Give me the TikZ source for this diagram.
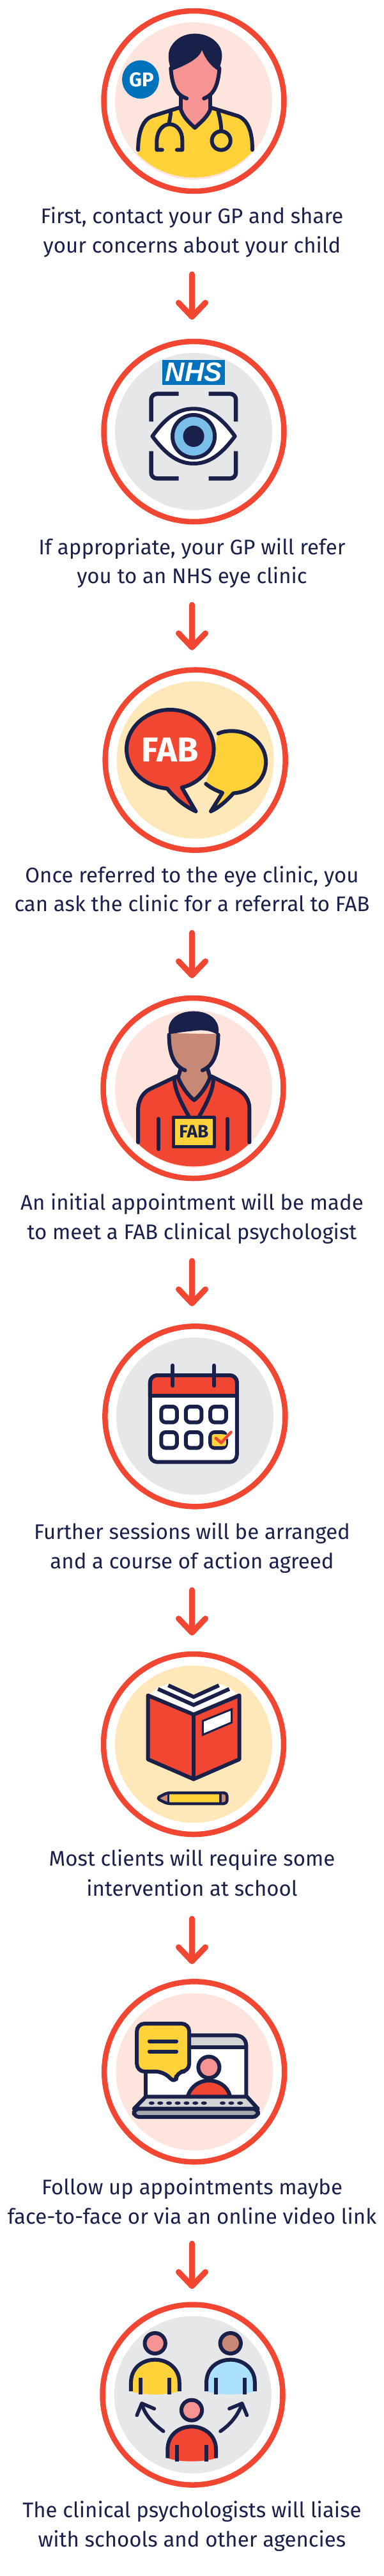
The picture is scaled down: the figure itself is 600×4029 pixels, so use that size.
\documentclass[tikz,border=0pt]{standalone}
\usepackage{fontspec}
\setmainfont{Fira Sans}
\newfontfamily\nhsfont{Liberation Sans}
\usetikzlibrary{arrows.meta}
\definecolor{ringred}{HTML}{F14732}
\definecolor{inkblue}{HTML}{192049}
\definecolor{sunyellow}{HTML}{FFD23A}
\definecolor{tintpink}{HTML}{FDE4DD}
\definecolor{tintgrey}{HTML}{E6E7E8}
\definecolor{tintcream}{HTML}{FEE8B9}
\definecolor{nhsblue}{HTML}{0072BC}
\definecolor{skinpink}{HTML}{F69393}
\definecolor{skinbrown}{HTML}{C78875}
\definecolor{irisblue}{HTML}{7ABFEA}
\definecolor{skyblue}{HTML}{ABE1FA}
\definecolor{keygrey}{HTML}{D1D3D4}
\definecolor{basegrey}{HTML}{A7A9AC}
\tikzset{
  ring/.style={circle,draw=ringred,line width=8.5pt,minimum size=282pt,inner sep=0pt,outer sep=0pt},
  disc/.style={circle,fill=#1,minimum size=246pt,inner sep=0pt,outer sep=0pt},
  caption/.style={anchor=base,inner sep=0pt,text=inkblue,font=\fontsize{33}{46}\selectfont},
  flow/.style={draw=ringred,line width=9pt,line cap=round,-{Straight Barb[length=22pt,width=42pt,round]}},
  ink/.style={draw=inkblue,line width=#1,line cap=round,line join=round},
  ink/.default=6pt,
  crop/.style={shift={(0,#1)},x=0.3846pt,y=-0.3333pt}
}
\begin{document}
\begin{tikzpicture}[x=1pt,y=-1pt]
\useasboundingbox (0,0) rectangle (600,4029);

% first panel
\node[disc=tintpink] (disc1) at (303,158) {};
\node[ring] (ring1) at (303.5,158) {};
\begin{scope}[crop=0]
\begin{scope}
\clip (788,465) ellipse [x radius=320,y radius=368];
\fill[sunyellow] (562,705) .. controls (562,610) and (585,560) .. (620,545) -- (730,505) -- (858,505) -- (970,545) .. controls (1010,565) and (1027,620) .. (1027,705) -- (1040,860) -- (550,860) -- cycle;
\end{scope}
\draw[ink] (562,703) .. controls (562,610) and (585,560) .. (620,545) -- (730,505);
\draw[ink] (858,505) -- (970,545) .. controls (1010,565) and (1027,620) .. (1027,703);
\fill[skinpink] (700,330) .. controls (760,305) and (810,275) .. (822,235) .. controls (835,275) and (860,315) .. (888,330) .. controls (885,400) and (865,445) .. (850,455) -- (855,510) .. controls (845,550) and (815,575) .. (793,600) .. controls (770,575) and (745,550) .. (735,510) -- (735,455) .. controls (715,440) and (700,400) .. (700,330) -- cycle;
\fill[inkblue] (697,332) .. controls (685,290) and (680,250) .. (695,220) .. controls (715,180) and (750,158) .. (793,158) .. controls (840,158) and (880,185) .. (897,225) .. controls (910,260) and (900,295) .. (890,332) .. controls (860,315) and (835,275) .. (822,235) .. controls (810,275) and (760,305) .. (697,332) -- cycle;
\draw[ink] (695,320) .. controls (700,400) and (715,445) .. (760,462);
\draw[ink] (893,320) .. controls (888,400) and (870,445) .. (830,462);
\draw[ink,line cap=butt] (735,445) -- (735,510);
\draw[ink,line cap=butt] (855,445) -- (855,510);
\draw[ink] (735,510) .. controls (745,550) and (770,575) .. (793,600) .. controls (815,575) and (845,550) .. (857,510);
\draw[ink] (695,530) -- (688,580);
\draw[ink] (660,703) -- (638,703) -- (638,660) .. controls (640,610) and (665,583) .. (690,583) .. controls (720,583) and (742,615) .. (742,660) -- (742,703) -- (720,703);
\draw[ink] (888,525) .. controls (898,565) and (900,590) .. (900,615);
\draw[ink] (900,660) ellipse [x radius=38,y radius=44];
\fill[nhsblue] (572,373) ellipse [x radius=75,y radius=90];
\node[inner sep=0pt,text=white,font=\fontsize{31}{31}\bfseries\selectfont] (badge) at (576,375) {GP};
\end{scope}
\node[caption] (cap1a) at (300.5,349) {First, contact your GP and share};
\node[caption] (cap1b) at (300.5,395) {your concerns about your child};
\coordinate (A1) at (300.5,429);
\coordinate (B1) at (300.5,500);
\draw[flow] (A1) -- (B1);

% second panel
\node[disc=tintgrey] (disc2) at (303,675) {};
\node[ring] (ring2) at (303.5,675) {};
\begin{scope}[crop=500]
\fill[nhsblue] (661,188) rectangle (915,305);
\node[inner sep=0pt,text=white,font=\fontsize{42}{42}\nhsfont\bfseries\itshape\selectfont] (nhs) at (788,246) {NHS};
\draw[ink=6.5pt,line cap=butt,rounded corners=9pt] (615,478) -- (615,348) -- (727,348);
\draw[ink=6.5pt,line cap=butt,rounded corners=9pt] (849,348) -- (960,348) -- (960,478);
\draw[ink=6.5pt,line cap=butt,rounded corners=9pt] (615,617) -- (615,745) -- (727,745);
\draw[ink=6.5pt,line cap=butt,rounded corners=9pt] (849,745) -- (960,745) -- (960,617);
\draw[ink,fill=white] (620,547) .. controls (680,450) and (730,418) .. (788,418) .. controls (846,418) and (896,450) .. (956,547) .. controls (896,640) and (846,675) .. (788,675) .. controls (730,675) and (680,640) .. (620,547) -- cycle;
\draw[ink,fill=irisblue] (788,547) ellipse [x radius=86,y radius=100];
\fill[inkblue] (788,547) ellipse [x radius=43,y radius=50];
\end{scope}
\node[caption] (cap2a) at (300.5,867) {If appropriate, your GP will refer};
\node[caption] (cap2b) at (300.5,912) {you to an NHS eye clinic};
\coordinate (A2) at (300.5,946);
\coordinate (B2) at (300.5,1017);
\draw[flow] (A2) -- (B2);

% third panel
\node[disc=tintcream] (disc3) at (305.6,1188.7) {};
\node[ring] (ring3) at (305.7,1188.7) {};
\begin{scope}[crop=1020]
\draw[ink,fill=sunyellow] (888,382) .. controls (905,372) and (925,370) .. (945,370) .. controls (1020,370) and (1082,435) .. (1082,515) .. controls (1082,595) and (1030,655) .. (950,662) .. controls (920,700) and (890,730) .. (858,747) -- (905,660) .. controls (880,650) and (855,635) .. (838,618);
\draw[ink,fill=ringred] (740,635) .. controls (815,615) and (870,540) .. (870,455) .. controls (870,355) and (790,270) .. (692,270) .. controls (595,270) and (515,355) .. (515,455) .. controls (515,550) and (585,630) .. (680,640) .. controls (715,690) and (755,725) .. (797,747) -- cycle;
\node[inner sep=0pt,text=white,font=\fontsize{54}{54}\bfseries\selectfont] (fab1) at (692,458) {FAB};
\end{scope}
\node[caption] (cap3a) at (300.5,1380) {Once referred to the eye clinic, you};
\node[caption] (cap3b) at (300.5,1425) {can ask the clinic for a referral to FAB};
\coordinate (A3) at (300.5,1459);
\coordinate (B3) at (300.5,1530);
\draw[flow] (A3) -- (B3);

% fourth panel
\node[disc=tintpink] (disc4) at (303,1703) {};
\node[ring] (ring4) at (302.5,1702) {};
\begin{scope}[crop=1530]
\begin{scope}
\clip (788,517) ellipse [x radius=320,y radius=366];
\fill[ringred] (562,775) -- (562,610) .. controls (565,565) and (585,535) .. (610,520) -- (720,460) -- (860,460) -- (965,520) .. controls (995,540) and (1015,570) .. (1015,610) -- (1015,775) -- (1040,900) -- (540,900) -- cycle;
\end{scope}
\draw[ink] (562,770) -- (562,610) .. controls (565,565) and (585,535) .. (610,520) -- (720,460);
\draw[ink] (860,460) -- (965,520) .. controls (995,540) and (1015,570) .. (1015,610) -- (1015,770);
\fill[skinbrown] (695,258) -- (885,262) .. controls (885,360) and (860,410) .. (845,430) -- (855,470) .. controls (840,510) and (810,550) .. (790,575) .. controls (770,550) and (740,510) .. (725,470) -- (735,430) .. controls (715,410) and (695,360) .. (695,258) -- cycle;
\fill[inkblue] (688,265) .. controls (675,200) and (720,155) .. (788,155) .. controls (855,155) and (900,200) .. (888,268) .. controls (850,235) and (800,245) .. (780,248) .. controls (750,250) and (720,258) .. (688,262) -- cycle;
\draw[ink] (688,265) .. controls (688,350) and (705,410) .. (753,432);
\draw[ink] (888,265) .. controls (888,350) and (870,410) .. (824,432);
\draw[ink] (735,425) -- (725,465) .. controls (735,500) and (765,550) .. (790,572) .. controls (815,550) and (845,500) .. (855,465) -- (845,425);
\draw[ink] (710,470) .. controls (708,520) and (740,590) .. (767,645);
\draw[ink] (868,470) .. controls (870,520) and (840,590) .. (812,645);
\draw[ink=5pt,fill=sunyellow,line cap=butt] (705,653) rectangle (873,792);
\node[inner sep=0pt,text=inkblue,font=\fontsize{28}{28}\bfseries\selectfont] (fab2) at (789,718) {FAB};
\draw[ink] (646,660) -- (646,802);
\draw[ink] (926,660) -- (926,802);
\end{scope}
\node[caption] (cap4a) at (300.5,1892) {An initial appointment will be made};
\node[caption] (cap4b) at (300.5,1938) {to meet a FAB clinical psychologist};
\coordinate (A4) at (300.5,1972);
\coordinate (B4) at (300.5,2043);
\draw[flow] (A4) -- (B4);

% fifth panel
\node[disc=tintgrey] (disc5) at (305,2215) {};
\node[ring] (ring5) at (305.4,2215.3) {};
\begin{scope}[crop=2040]
\draw[ink,fill=white,rounded corners=11pt] (611,333) rectangle (964,740);
\fill[ringred,rounded corners=11pt] (611,428) -- (611,333) -- (964,333) -- (964,428) -- cycle;
\draw[ink,rounded corners=11pt] (611,428) -- (611,333) -- (964,333) -- (964,428);
\draw[ink,line cap=butt] (611,428) -- (964,428);
\draw[ink] (703,287) -- (703,382);
\draw[ink] (871,287) -- (871,382);
\draw[ink,rounded corners=7pt] (656,480) rectangle (720,554);
\draw[ink,rounded corners=7pt] (756,480) rectangle (820,554);
\draw[ink,rounded corners=7pt] (856,480) rectangle (920,554);
\draw[ink,rounded corners=7pt] (656,600) rectangle (720,674);
\draw[ink,rounded corners=7pt] (756,600) rectangle (820,674);
\draw[ink,rounded corners=7pt] (856,600) rectangle (920,674);
\fill[sunyellow,rounded corners=3pt] (862,610) rectangle (920,665);
\draw[white,line width=6pt,line cap=round] (920,625) -- (945,597);
\draw[ringred,line width=4.5pt,line cap=round,line join=round] (878,628) -- (900,650) -- (940,600);
\end{scope}
\node[caption] (cap5a) at (300.5,2407) {Further sessions will be arranged};
\node[caption] (cap5b) at (300.5,2453) {and a course of action agreed};
\coordinate (A5) at (300.5,2487);
\coordinate (B5) at (300.5,2558);
\draw[flow] (A5) -- (B5);

% sixth panel
\node[disc=tintcream] (disc6) at (303,2728) {};
\node[ring] (ring6) at (303,2728) {};
\begin{scope}[crop=2550]
\fill[white] (610,298) -- (643,270) -- (685,250) -- (788,302) -- (891,250) -- (933,270) -- (966,298) -- (788,385) -- cycle;
\draw[ink,line cap=butt,line join=miter] (685,258) -- (788,312) -- (891,258);
\draw[ink,line cap=butt,line join=miter] (643,275) -- (788,350) -- (933,275);
\draw[ink,fill=ringred] (602,305) -- (788,395) -- (974,305) -- (974,605) -- (788,698) -- (602,605) -- cycle;
\draw[ink] (788,395) -- (788,698);
\draw[ink=3pt,fill=white,line join=miter] (825,425) -- (943,370) -- (943,432) -- (825,490) -- cycle;
\fill[skinbrown] (637,788) -- (685,762) -- (685,813) -- cycle;
\fill[sunyellow] (685,762) rectangle (897,813);
\fill[skinbrown] (897,762) rectangle (922,813);
\draw[ink=4.5pt,rounded corners=5pt] (637,788) -- (680,762) -- (924,762) -- (924,813) -- (680,813) -- cycle;
\draw[ink=3.5pt,line cap=butt] (685,762) -- (685,813);
\draw[ink=3.5pt,line cap=butt] (897,762) -- (897,813);
\end{scope}
\node[caption] (cap6a) at (300.5,2918) {Most clients will require some};
\node[caption] (cap6b) at (300.5,2965) {intervention at school};
\coordinate (A6) at (300.5,3001);
\coordinate (B6) at (300.5,3072);
\draw[flow] (A6) -- (B6);

% seventh panel
\node[disc=tintpink] (disc7) at (304.4,3240.5) {};
\node[ring] (ring7) at (304.2,3240.3) {};
\begin{scope}[crop=3040]
\fill[keygrey,rounded corners=12pt] (700,430) -- (1003,430) -- (1003,487) -- (700,487) -- cycle;
\fill[white] (593,487) rectangle (1003,715);
\draw[ink,line cap=butt] (593,590) -- (593,715);
\draw[ink,line cap=butt] (770,430) -- (955,430) .. controls (985,430) and (1002,450) .. (1002,480) -- (1002,715);
\draw[ink,line cap=butt] (770,487) -- (1002,487);
\draw[ink,fill=ringred] (765,712) .. controls (780,665) and (815,642) .. (850,642) .. controls (885,642) and (925,665) .. (935,712);
\draw[ink,fill=skinpink] (850,580) ellipse [x radius=43,y radius=50];
\draw[ink,fill=sunyellow,rounded corners=12pt] (557,375) -- (770,375) -- (770,600) -- (718,600) -- (716,658) -- (665,600) -- (557,600) -- cycle;
\draw[ink] (608,458) -- (718,458);
\draw[ink] (608,506) -- (718,506);
\draw[ink,fill=keygrey] (593,718) -- (1005,718) -- (1050,775) -- (545,775) -- cycle;
\draw[ink,fill=basegrey,rounded corners=8pt] (545,775) -- (1050,775) -- (1050,813) -- (545,813) -- cycle;
\fill[inkblue] (617,748) ellipse [x radius=12,y radius=8] (652,748) ellipse [x radius=12,y radius=8] (688,748) ellipse [x radius=12,y radius=8] (723,748) ellipse [x radius=12,y radius=8] (759,748) ellipse [x radius=12,y radius=8] (795,748) ellipse [x radius=12,y radius=8] (830,748) ellipse [x radius=12,y radius=8] (906,748) ellipse [x radius=12,y radius=8] (941,748) ellipse [x radius=12,y radius=8] (977,748) ellipse [x radius=12,y radius=8];
\end{scope}
\node[caption] (cap7a) at (300.5,3432) {Follow up appointments maybe};
\node[caption] (cap7b) at (300.5,3478) {face-to-face or via an online video link};
\coordinate (A7) at (300.5,3509);
\coordinate (B7) at (300.5,3580);
\draw[flow] (A7) -- (B7);

% eighth panel
\node[disc=tintgrey] (disc8) at (301.8,3745.5) {};
\node[ring] (ring8) at (301.5,3745.5) {};
\begin{scope}[crop=3540]
\fill[sunyellow] (533,600) -- (533,560) .. controls (533,490) and (580,452) .. (631,452) .. controls (680,452) and (730,490) .. (730,560) -- (730,600) .. controls (680,620) and (580,620) .. (533,600) -- cycle;
\draw[ink,line cap=butt] (533,600) -- (533,560) .. controls (533,490) and (580,452) .. (631,452) .. controls (680,452) and (730,490) .. (730,560) -- (730,600);
\draw[ink,line cap=butt] (572,538) -- (572,615);
\draw[ink,line cap=butt] (690,538) -- (690,615);
\draw[ink,fill=skinpink] (631,375) ellipse [x radius=42,y radius=48];
\fill[skyblue] (840,600) -- (840,560) .. controls (840,490) and (887,452) .. (938,452) .. controls (987,452) and (1037,490) .. (1037,560) -- (1037,600) .. controls (987,620) and (887,620) .. (840,600) -- cycle;
\draw[ink,line cap=butt] (840,600) -- (840,560) .. controls (840,490) and (887,452) .. (938,452) .. controls (987,452) and (1037,490) .. (1037,560) -- (1037,600);
\draw[ink,line cap=butt] (879,538) -- (879,615);
\draw[ink,line cap=butt] (997,538) -- (997,615);
\draw[ink,fill=skinbrown] (938,375) ellipse [x radius=42,y radius=48];
\fill[ringred] (682,914) -- (682,874) .. controls (682,804) and (729,766) .. (780,766) .. controls (829,766) and (879,804) .. (879,874) -- (879,914) .. controls (829,934) and (729,934) .. (682,914) -- cycle;
\draw[ink,line cap=butt] (682,914) -- (682,874) .. controls (682,804) and (729,766) .. (780,766) .. controls (829,766) and (879,804) .. (879,874) -- (879,914);
\draw[ink,line cap=butt] (721,852) -- (721,929);
\draw[ink,line cap=butt] (839,852) -- (839,929);
\draw[ink,fill=skinpink] (780,689) ellipse [x radius=42,y radius=48];
\draw[ink=5.5pt] (665,788) .. controls (620,750) and (590,710) .. (577,660);
\draw[ink=5.5pt] (557,713) -- (577,657) -- (628,682);
\draw[ink=5.5pt] (897,788) .. controls (945,750) and (970,705) .. (985,660);
\draw[ink=5.5pt] (1005,713) -- (985,657) -- (933,682);
\end{scope}
\node[caption] (cap8a) at (300.5,3937) {The clinical psychologists will liaise};
\node[caption] (cap8b) at (300.5,3983) {with schools and other agencies};

\end{tikzpicture}
\end{document}
